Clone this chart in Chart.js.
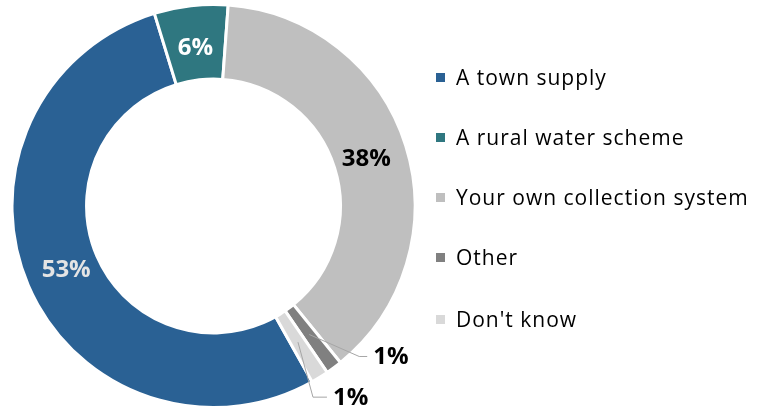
<!DOCTYPE html>
<html>
<head>
<meta charset="utf-8">
<script src="https://cdn.jsdelivr.net/npm/chart.js@4.4.0/dist/chart.umd.min.js"></script>
<style>
  html, body { margin: 0; padding: 0; background: #fff; }
  #wrap { position: relative; width: 757px; height: 410px; }
  #chart { position: absolute; left: 0; top: 0; }
  #legend { position: absolute; left: 436px; top: 0; font-family: "Open Sans", sans-serif; font-size: 21px; letter-spacing: 1px; color: #000; }
  .item { position: absolute; left: 0; white-space: nowrap; height: 24px; line-height: 24px; }
  .box { position: absolute; left: 0; top: 8px; width: 9px; height: 9px; }
  .txt { position: absolute; left: 20px; top: 0; }
</style>
</head>
<body>
<div id="wrap">
  <canvas id="chart" width="757" height="410"></canvas>
  <div id="legend"></div>
</div>
<script>
// categories and shares (%)
const categories = ["A town supply", "A rural water scheme", "Your own collection system", "Other", "Don't know"];
const shares = [53.4, 5.9, 38.0, 1.3, 1.4];
const colors = ["#2A6194", "#2F7780", "#BFBFBF", "#808080", "#D9D9D9"];
const labelColors = ["#E4E4E4", "#FFFFFF", "#000000", "#000000", "#000000"];

// legend (html)
const legendEl = document.getElementById("legend");
const legendY = [65, 125, 185, 245, 307];
categories.forEach(function (name, i) {
  const item = document.createElement("div");
  item.className = "item";
  item.style.top = legendY[i] + "px";
  item.innerHTML = '<span class="box" style="background:' + colors[i] + '"></span><span class="txt"></span>';
  item.querySelector(".txt").textContent = name;
  legendEl.appendChild(item);
});

// percentage labels, small slices get a leader line outside the ring
const sliceLabels = {
  id: "sliceLabels",
  afterDatasetsDraw(chart) {
    const ctx = chart.ctx;
    const arcs = chart.getDatasetMeta(0).data;
    ctx.save();
    ctx.font = "bold 24px 'Open Sans', sans-serif";
    ctx.textBaseline = "middle";
    arcs.forEach(function (arc, i) {
      const text = Math.round(shares[i]) + "%";
      const mid = (arc.startAngle + arc.endAngle) / 2;
      const cx = arc.x, cy = arc.y;
      const r = (arc.innerRadius + arc.outerRadius) / 2 - 4;
      if (shares[i] >= 3) {
        ctx.fillStyle = labelColors[i];
        ctx.textAlign = "center";
        ctx.fillText(text, cx + Math.cos(mid) * r, cy + Math.sin(mid) * r + 1);
      } else {
        const x0 = cx + Math.cos(mid) * r, y0 = cy + Math.sin(mid) * r;
        let x1, y1, x2;
        if (i === 3) { x1 = x0 + 50; y1 = y0 + 22; x2 = x1 + 8; }
        else { x1 = x0 + 15; y1 = y0 + 55; x2 = x1 + 14; }
        ctx.strokeStyle = "#A6A6A6";
        ctx.lineWidth = 1;
        ctx.beginPath();
        ctx.moveTo(x0, y0);
        ctx.lineTo(x1, y1);
        ctx.lineTo(x2, y1);
        ctx.stroke();
        ctx.fillStyle = labelColors[i];
        ctx.textAlign = "left";
        ctx.fillText(text, x2 + 6, y1 + 1);
      }
    });
    ctx.restore();
  }
};

new Chart(document.getElementById("chart").getContext("2d"), {
  type: "doughnut",
  data: {
    labels: categories,
    datasets: [{
      data: shares,
      backgroundColor: colors,
      borderColor: "#FFFFFF",
      borderWidth: 3
    }]
  },
  options: {
    responsive: false,
    animation: false,
    rotation: 150.7,
    cutout: "63%",
    layout: { padding: { left: 10, right: 340, top: 3, bottom: 1 } },
    plugins: {
      legend: { display: false },
      tooltip: { enabled: false }
    }
  },
  plugins: [sliceLabels]
});
</script>
</body>
</html>
